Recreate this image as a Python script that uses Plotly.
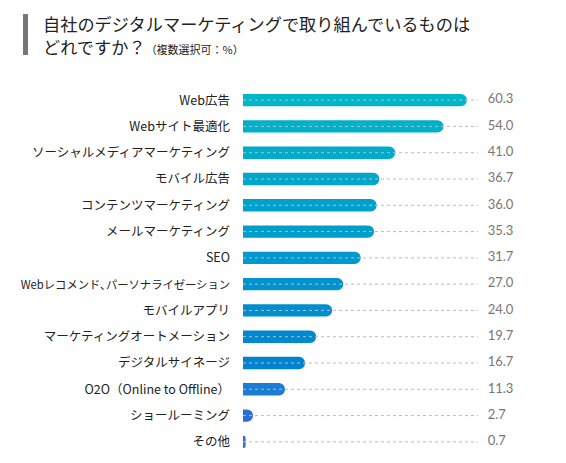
import plotly.graph_objects as go

categories = ["Web広告", "Webサイト最適化", "ソーシャルメディアマーケティング", "モバイル広告",
              "コンテンツマーケティング", "メールマーケティング", "SEO",
              "Webレコメンド､パーソナライゼーション", "モバイルアプリ", "マーケティングオートメーション",
              "デジタルサイネージ", "O2O（Online to Offline）", "ショールーミング", "その他"]
values = [60.3, 54.0, 41.0, 36.7, 36.0, 35.3, 31.7, 27.0, 24.0, 19.7, 16.7, 11.3, 2.7, 0.7]
value_labels = ["60.3", "54.0", "41.0", "36.7", "36.0", "35.3", "31.7", "27.0", "24.0", "19.7",
                "16.7", "11.3", "2.7", "0.7"]
bar_colors = ["#00B6C8", "#00B1C9", "#00ACCA", "#00A7CB", "#00A2CC", "#009DCD", "#0098CE",
              "#0093CF", "#008ECF", "#0089CF", "#0084CF", "#1A7DD3", "#2A70D2", "#3568D0"]

LINE_END = 63.3
LABEL_X = 65.9

# the one very long label is set slightly smaller so it fits like in the reference
tick_text = [("<span style='font-size:11.3px'>%s</span>" % c) if c.startswith("Webレコ") else c
             for c in categories]

fig = go.Figure()

# dotted leader lines
lx, ly = [], []
for c in categories:
    lx += [0, LINE_END, None]
    ly += [c, c, None]
fig.add_trace(go.Scatter(x=lx, y=ly, mode="lines",
                         line=dict(color="#BBBBBB", width=1, dash="dot"),
                         hoverinfo="skip", showlegend=False))

fig.add_trace(go.Bar(x=values, y=categories, orientation="h",
                     marker=dict(color=bar_colors, line=dict(width=0)),
                     showlegend=False))

fig.add_trace(go.Scatter(x=[LABEL_X] * len(categories), y=categories, mode="text",
                         text=value_labels, textposition="middle right",
                         textfont=dict(family="Lato, Roboto, sans-serif", size=13, color="#777777"),
                         showlegend=False, hoverinfo="skip"))

# page has an 8px body margin; figure is placed at (8, 8)
OFF = 8
W, H = 550, 447
ml, mr, mt, mb = 243 - OFF, 18, 87 - OFF, 0
pw = W - ml - mr
ph = H - mt - mb

def px_to_paper_x(px):
    return (px - OFF - ml) / pw

def px_to_paper_y(py):
    return 1 - (py - OFF - mt) / ph

fig.add_shape(type="rect", xref="paper", yref="paper",
              x0=px_to_paper_x(23), x1=px_to_paper_x(28),
              y0=px_to_paper_y(14), y1=px_to_paper_y(55),
              fillcolor="#777777", line=dict(width=0))

fig.add_annotation(xref="paper", yref="paper", x=px_to_paper_x(41), y=px_to_paper_y(24),
                   xanchor="left", yanchor="middle", align="left", showarrow=False,
                   text="自社のデジタルマーケティングで取り組んでいるものは",
                   font=dict(family="Noto Sans CJK JP", size=17.2, color="#222222"))
fig.add_annotation(xref="paper", yref="paper", x=px_to_paper_x(41), y=px_to_paper_y(47),
                   xanchor="left", yanchor="middle", align="left", showarrow=False,
                   text="どれですか？<span style='font-size:11px'>（複数選択可：%）</span>",
                   font=dict(family="Noto Sans CJK JP", size=17.2, color="#222222"))

fig.update_layout(
    width=W, height=H,
    margin=dict(l=ml, r=mr, t=mt, b=mb, pad=0, autoexpand=False),
    paper_bgcolor="white", plot_bgcolor="white",
    bargap=0.53, barcornerradius=6,
    font=dict(family="Noto Sans CJK JP"),
    xaxis=dict(range=[0, 80], visible=False, fixedrange=True, automargin=False),
    yaxis=dict(range=[len(categories) - 0.5, -0.5], showgrid=False, zeroline=False, showline=False,
               tickmode="array", tickvals=categories, ticktext=tick_text,
               ticks="", ticklabelstandoff=12, automargin=False, fixedrange=True,
               tickfont=dict(family="Noto Sans CJK JP", size=12.5, color="#222222")),
)

fig.write_html("out.html")
